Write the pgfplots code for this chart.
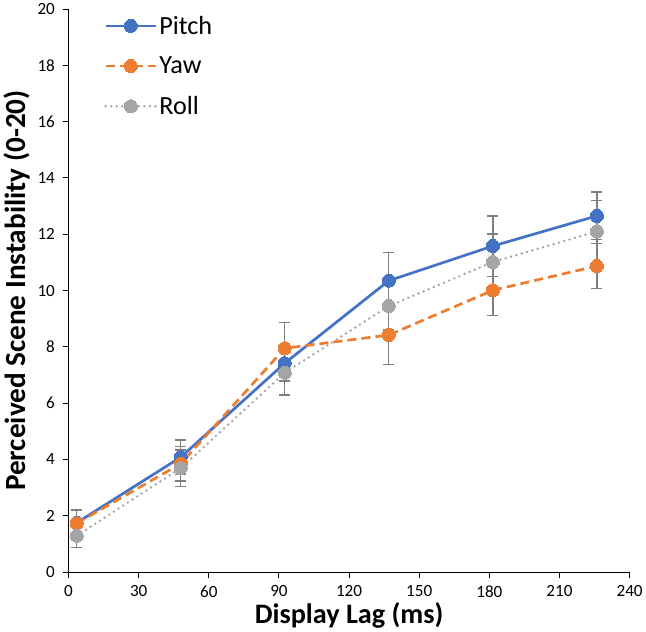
\documentclass[border=0pt]{standalone}
\usepackage{pgfplots}
\pgfplotsset{compat=1.18}
\usepackage{fontspec}
\setmainfont{Carlito}
\definecolor{cblue}{HTML}{4472C4}
\definecolor{corange}{HTML}{ED7D31}
\definecolor{cgray}{HTML}{A5A5A5}
\definecolor{errgray}{HTML}{7F7F7F}

\pgfplotsset{
  errstyle/.style={
    error bars/.cd, y dir=both, y explicit,
    error bar style={errgray, line width=1.3pt, solid},
    error mark options={errgray, rotate=90, mark size=5.5pt, line width=1.3pt, solid}
  }
}

\begin{document}
\begin{tikzpicture}
  \begin{axis}[
      scale only axis,
      width=557pt, height=559pt,
      xmin=0, xmax=240, ymin=0, ymax=20,
      xtick={0,30,...,240}, ytick={0,2,...,20},
      axis lines=left,
      axis line style={-, black, line width=0.9pt},
      tick style={black, line width=0.9pt},
      tick align=outside,
      major tick length=6pt,
      ticklabel style={font=\fontsize{17}{19}\selectfont},
      xticklabel style={yshift=-4pt},
      yticklabel style={xshift=-4pt},
      /pgf/number format/assume math mode=true,
      xlabel={\textbf{Display Lag (ms)}},
      ylabel={\textbf{Perceived Scene Instability (0-20)}},
      xlabel style={font=\fontsize{28}{32}\selectfont, yshift=2pt},
      ylabel style={font=\fontsize{29}{33}\selectfont, yshift=1pt},
      legend style={draw=none, fill=none, at={(0.058,0.995)}, anchor=north west,
        font=\fontsize{26}{30}\selectfont, row sep=17pt},
      legend cell align=left,
      legend image code/.code={
        \draw[#1] (0pt,0pt) -- (50pt,0pt);
        \draw[#1, mark repeat=1] plot coordinates {(25pt,0pt)};
      },
      clip=false,
    ]

    \addplot[cblue, line width=2.7pt, mark=*, mark size=6.5pt,
      mark options={solid, fill=cblue, draw=cblue, line width=0pt},
      errstyle] coordinates {
      (3.5,1.75) +- (0,0.45)
      (48,4.08) +- (0,0.61)
      (92.5,7.42) +- (0,0.63)
      (137,10.35) +- (0,0.99)
      (181.5,11.58) +- (0,1.07)
      (226,12.65) +- (0,0.85)
    };

    \addplot[corange, line width=2.7pt, dash pattern=on 9pt off 5pt, mark=*, mark size=6.5pt,
      mark options={solid, fill=corange, draw=corange, line width=0pt},
      errstyle] coordinates {
      (3.5,1.73) +- (0,0.48)
      (48,3.85) +- (0,0.62)
      (92.5,7.95) +- (0,0.92)
      (137,8.42) +- (0,1.04)
      (181.5,10.01) +- (0,0.90)
      (226,10.87) +- (0,0.81)
    };

    \addplot[cgray, line width=2.7pt, line cap=round, dash pattern=on 0pt off 5.5pt, mark=*, mark size=6.5pt,
      mark options={solid, fill=cgray, draw=cgray, line width=0pt},
      errstyle] coordinates {
      (3.5,1.29) +- (0,0.42)
      (48,3.69) +- (0,0.64)
      (92.5,7.08) +- (0,0.79)
      (137,9.45) +- (0,0.85)
      (181.5,11.01) +- (0,1.00)
      (226,12.10) +- (0,1.10)
    };

    \legend{Pitch, Yaw, Roll}
  \end{axis}
\end{tikzpicture}
\end{document}
